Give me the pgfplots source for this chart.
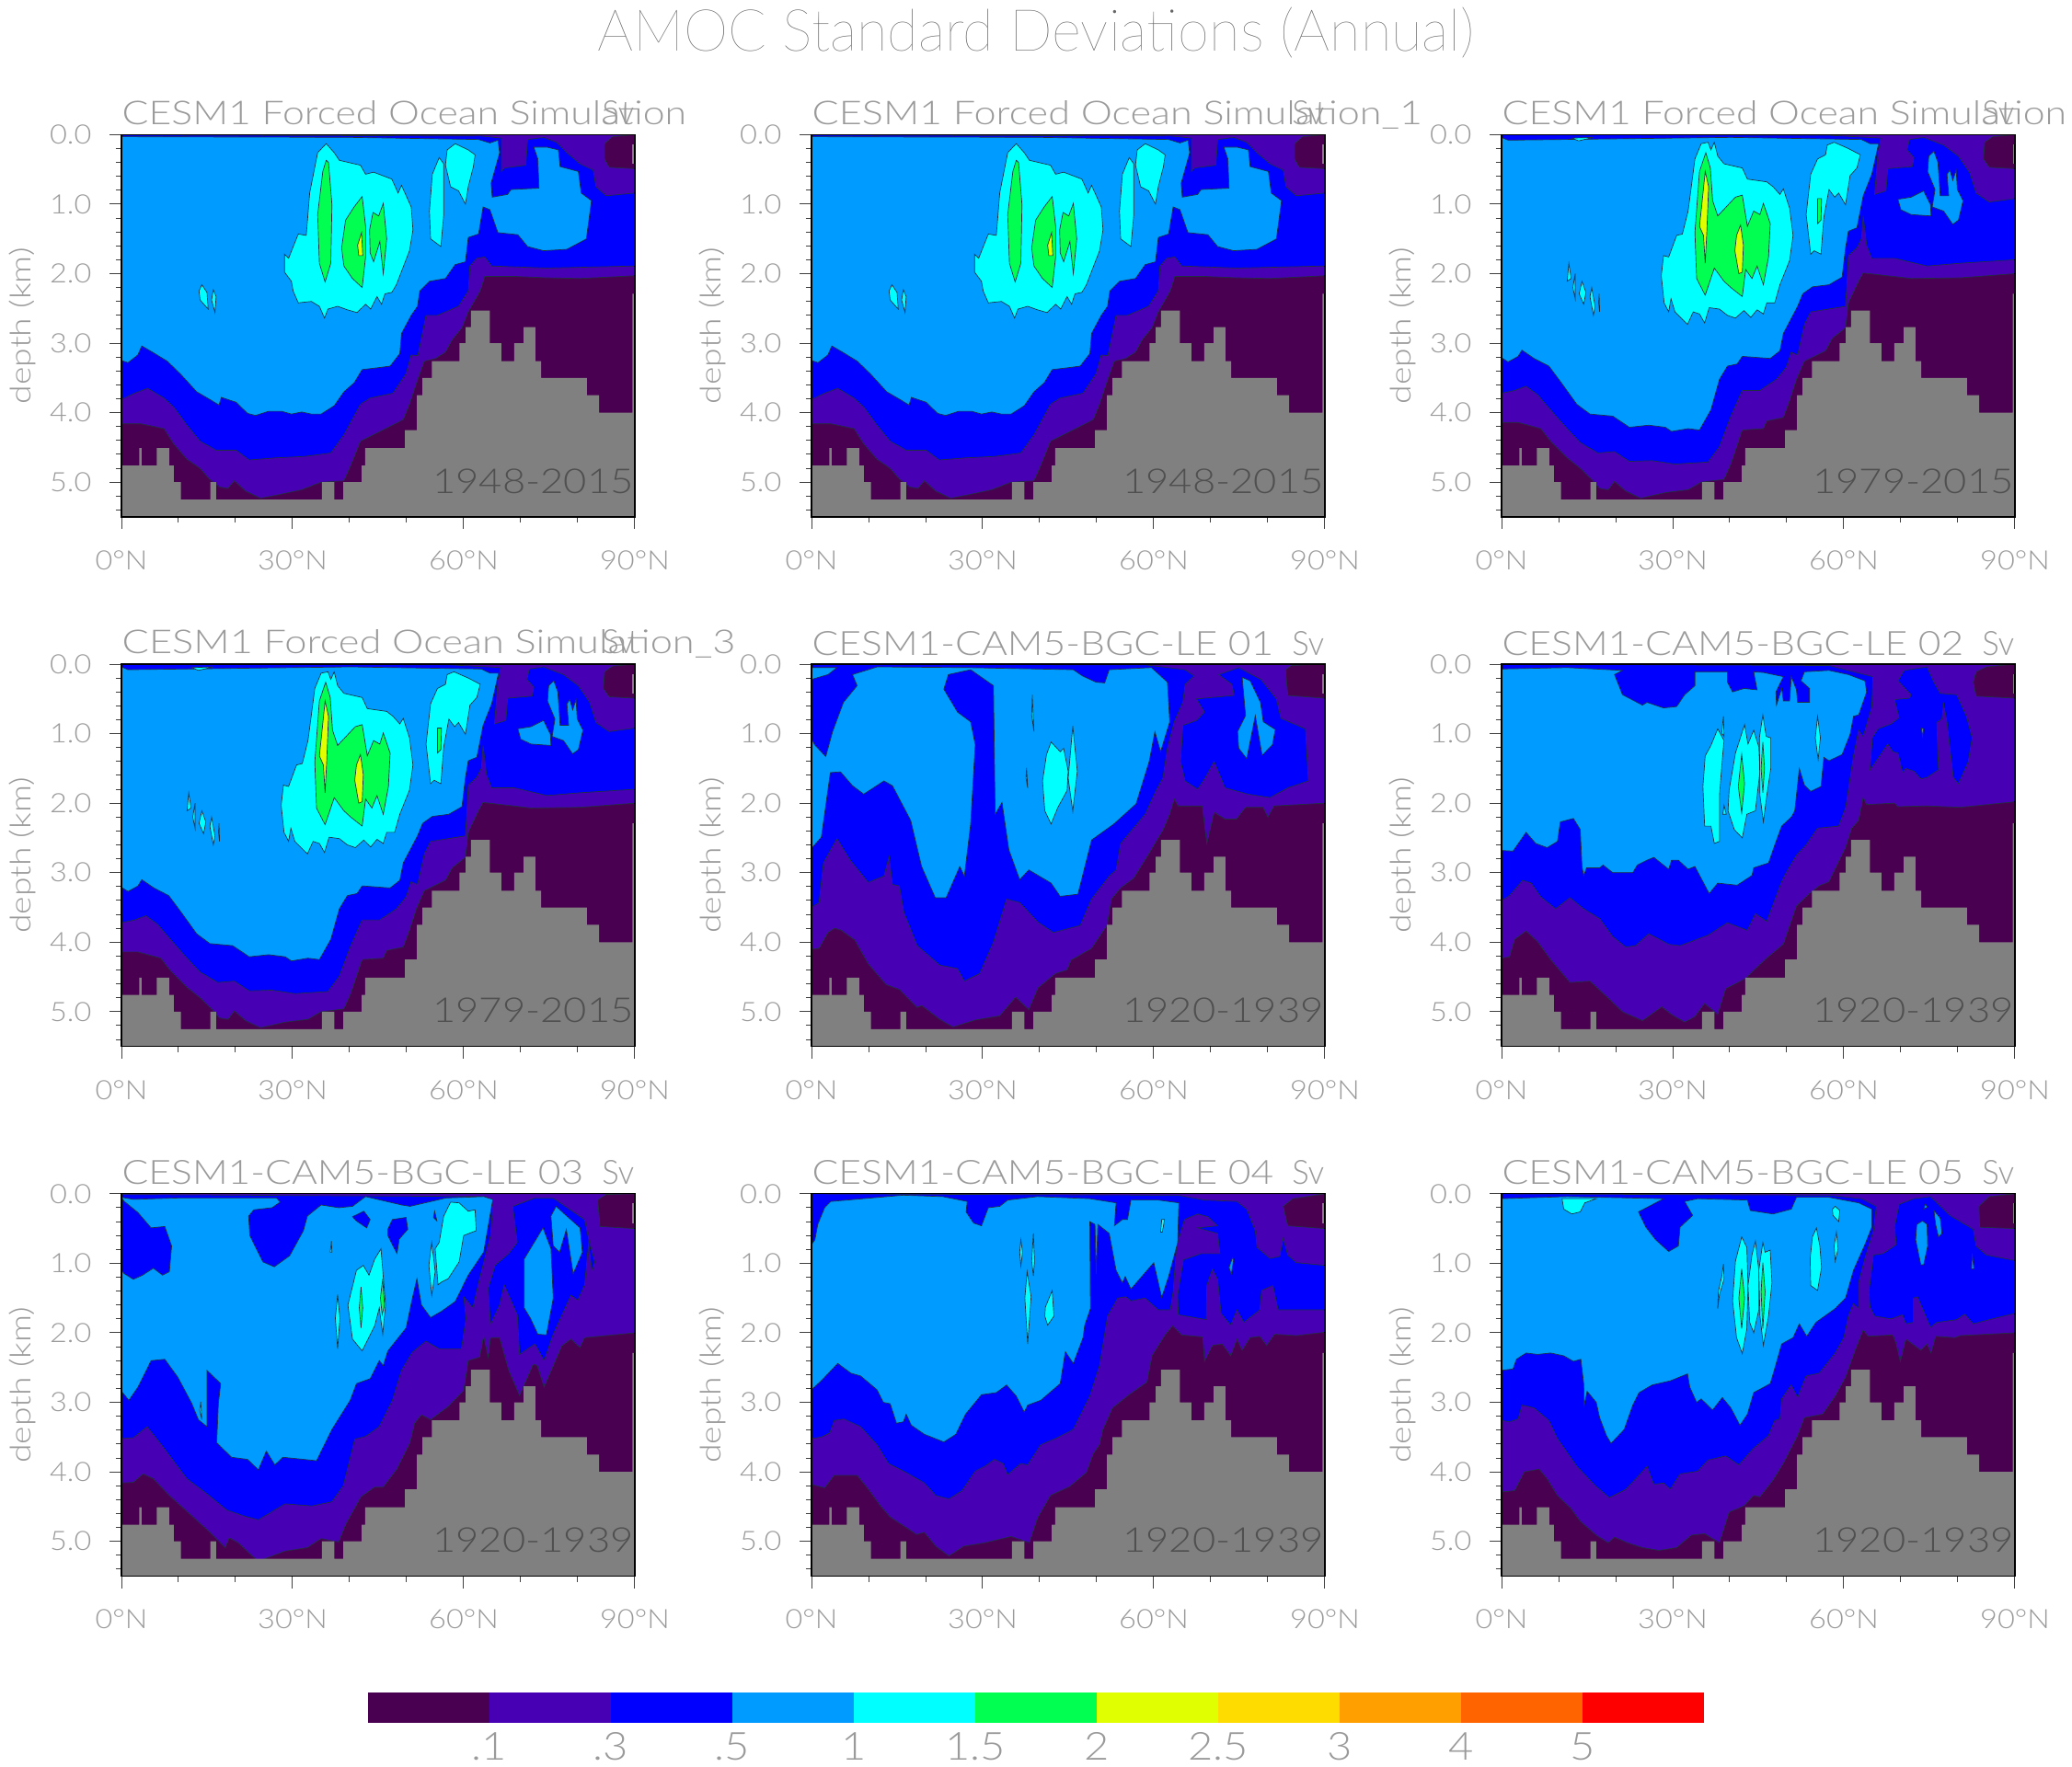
\documentclass[border=0pt]{standalone}
\usepackage{fontspec}
\usepackage{graphicx}
\usepackage{pgfplots}
\pgfplotsset{compat=1.18}
\setmainfont{Lato Light}
\newfontfamily\tickfont{Lato Light}[FakeStretch=1.12]
\newfontfamily\thinfont{Lato Hairline}
\definecolor{c0}{HTML}{4A0050}
\definecolor{c1}{HTML}{4800B4}
\definecolor{c2}{HTML}{0000FF}
\definecolor{c3}{HTML}{009BFF}
\definecolor{c4}{HTML}{00FFFF}
\definecolor{c5}{HTML}{00FF50}
\definecolor{c6}{HTML}{E0FF00}
\definecolor{c7}{HTML}{FFDC00}
\definecolor{c8}{HTML}{FFA000}
\definecolor{c9}{HTML}{FF6400}
\definecolor{c10}{HTML}{FF0000}
\definecolor{gr}{HTML}{808080}
\definecolor{tc}{HTML}{9A9A9A}
\definecolor{yc}{HTML}{505050}
\definecolor{cl}{HTML}{203040}
\newcommand\poly[2]{\addplot[fill=#1,draw=cl,line width=.2pt,forget plot] coordinates {#2} -- cycle;}
\newcommand\Base{\addplot[fill=c0,draw=none,forget plot] coordinates {(0,0)(90,0)(90,5.5)(0,5.5)} -- cycle;}
\newcommand\Topo{%
\addplot[fill=gr,draw=none,forget plot] coordinates {(0,4.76)(3.13,4.76)(3.13,4.51)(3.52,4.51)(3.52,4.76)(6.18,4.76)(6.18,4.51)(8.37,4.51)(8.37,4.76)(9.16,4.76)(9.16,5)(10.41,5)(10.41,5.25)(15.57,5.25)(15.57,5)(16.59,5)(16.59,5.25)(35.14,5.25)(35.14,5)(37.33,5)(37.33,5.25)(38.9,5.25)(38.9,5)(42.1,5)(42.1,4.76)(42.73,4.76)(42.73,4.51)(49.7,4.51)(49.7,4.25)(51.8,4.25)(51.8,3.75)(52.75,3.75)(52.75,3.5)(54.4,3.5)(54.4,3.26)(59.24,3.26)(59.24,3)(60.34,3)(60.34,2.77)(61.28,2.77)(61.28,2.53)(64.56,2.53)(64.56,3)(66.6,3)(66.6,3.26)(68.87,3.26)(68.87,3)(70.5,3)(70.5,2.77)(72.55,2.77)(72.55,3.26)(73.56,3.26)(73.56,3.5)(81.6,3.5)(81.6,3.75)(83.74,3.75)(83.74,4)(89.6,4)(89.6,2.29)(90,2.29)(90,5.5)(0,5.5)} -- cycle;
\addplot[fill=gr,draw=none,forget plot] coordinates {(89.6,.14)(90,.14)(90,.42)(89.6,.42)} -- cycle;}
% ---------- panels 1 and 2
\newcommand\PanelA{\Base
\poly{c1}{(0,0)(0,4.16)(3.44,4.16)(7.46,4.23)(9.18,4.45)(11.48,4.67)(13.78,4.8)(15.5,4.96)(17.22,5.07)(18.66,5.09)(19.8,4.98)(21.8,5.13)(24.4,5.23)(27.55,5.18)(31.57,5.11)(35,5)(39,4.98)(40.2,4.76)(41.9,4.41)(45.35,4.27)(49.4,4.1)(50.5,3.88)(51.95,3.52)(53.1,3.26)(55.1,3.22)(56.8,3.13)(58,2.95)(59.7,2.78)(60.8,2.55)(62.9,2.25)(63.7,2.04)(68.9,2.04)(74.6,2.06)(80.4,2.07)(90,2.03)(90,.49)(85.5,.47)(84.7,.35)(84.7,.13)(86.1,.03)(90,0)}
\poly{c2}{(0,.005)(0,3.81)(2.3,3.72)(4.6,3.65)(7.46,3.79)(9.18,3.92)(11.5,4.18)(13.8,4.41)(16.6,4.54)(20.1,4.54)(22.4,4.68)(27,4.65)(32.1,4.63)(36.7,4.58)(39,4.32)(41.9,3.88)(43.6,3.79)(47.6,3.72)(49.9,3.44)(50.8,3.17)(51.95,3.18)(53.4,2.6)(55.4,2.6)(59.1,2.47)(60.8,2.25)(61.1,1.89)(62.3,1.78)(63.7,1.76)(64.9,1.89)(74.6,1.92)(90,1.89)(90,.84)(85,.88)(83.2,.75)(82.7,.51)(80.4,.42)(78.1,.26)(76.3,.11)(74,.04)(71.2,.07)(70.9,.44)(67.2,.48)(66.6,.53)(66.6,.05)(63.1,.02)}
\poly{c3}{(0,.03)(0,3.25)(1.15,3.28)(2.87,3.17)(3.56,3.04)(5.45,3.13)(8.04,3.26)(10.3,3.44)(13.2,3.7)(15.5,3.81)(17.1,3.89)(17.5,3.78)(20.1,3.85)(22.1,4.01)(23.5,4.04)(25.8,3.98)(28.1,3.98)(29.8,4.02)(31.6,3.99)(33.3,4.02)(35,4.02)(37.3,3.9)(39,3.7)(40.8,3.57)(42.2,3.38)(45.3,3.35)(47.1,3.33)(48.8,3.15)(49.1,2.86)(50.8,2.6)(51.9,2.47)(52.3,2.25)(54,2.11)(56.8,2.07)(58.5,1.87)(60.3,1.83)(60.8,1.48)(62.6,1.43)(63.4,1.04)(64.6,1.08)(66,1.41)(69.5,1.44)(71.2,1.61)(74,1.67)(78.1,1.65)(81.5,1.5)(82.4,.95)(80.6,.84)(80.1,.53)(76.9,.46)(76.6,.22)(74.6,.18)(72.3,.18)(73,.35)(73.2,.77)(68.3,.79)(67.7,.86)(65,.9)(64.8,.7)(66.3,.26)(66,.08)(64.6,.12)(62.6,.07)(40.2,.04)}
\poly{c4}{(35.9,.13)(37.3,.26)(38.2,.37)(41.9,.44)(42.8,.57)(44.2,.54)(47.4,.64)(48.5,.84)(49.1,.73)(50.8,1.04)(51.1,1.37)(50.5,1.67)(48.2,2.16)(47.4,2.27)(46.2,2.29)(45.6,2.44)(44.8,2.33)(43.7,2.51)(42.8,2.44)(41.3,2.56)(39.6,2.52)(37.9,2.47)(36.2,2.51)(35.6,2.64)(34.7,2.47)(33.3,2.4)(31,2.42)(30.1,2.25)(29.8,2.11)(28.6,1.98)(28.6,1.72)(29.3,1.78)(31,1.43)(32.4,1.45)(33,.84)(34.4,.26)}
\poly{c4}{(55.7,.33)(56.5,.42)(56.5,1.15)(56,1.61)(54.2,1.5)(54,1.1)(54.5,.57)}
\poly{c4}{(58.5,.13)(60.8,.22)(62,.29)(61.7,.46)(60.8,.75)(60.3,1)(59.1,.81)(57.7,.75)(56.8,.44)(57.1,.22)}
\poly{c4}{(14.1,2.16)(15,2.27)(15.2,2.51)(13.8,2.38)(13.6,2.25)}
\poly{c4}{(16.1,2.23)(16.6,2.33)(16.4,2.56)(15.8,2.38)}
\poly{c5}{(35.9,.37)(36.3,.4)(36.9,1.01)(36.7,1.85)(35.7,2.12)(34.7,1.85)(34.4,1.15)(35.3,.53)}
\poly{c5}{(42.2,.89)(42.8,1.32)(42.8,1.76)(42.2,2.2)(40.5,2.07)(39,1.89)(38.6,1.63)(39.3,1.23)(40.8,1.04)}
\poly{c5}{(45.9,.99)(46.5,1.5)(45.9,2)(45.3,1.54)(44.2,1.83)(43.6,1.7)(43.5,1.37)(44.1,1.12)(45.1,1.17)}
\poly{c6}{(42.1,1.41)(42.3,1.74)(41.6,1.74)(41.4,1.59)}
}
% ---------- panels 3 and 4
\newcommand\PanelB{\Base
\poly{c1}{(0,0)(0,4.14)(2.87,4.14)(6.9,4.23)(8.6,4.41)(11.5,4.65)(13.8,4.8)(15.8,4.96)(17.2,5.09)(18.7,5.11)(19.8,4.99)(21.8,5.13)(24.4,5.23)(28.7,5.15)(32.7,5.11)(35,5)(39,4.96)(40.2,4.74)(42.2,4.25)(45.9,4.23)(46.5,4.12)(49.4,4.07)(50.5,3.83)(51.7,3.52)(53.1,3.26)(56.8,3.11)(58,2.93)(60.3,2.78)(60.8,2.42)(62.6,2.11)(63.4,1.99)(66.6,2.02)(71.8,2.07)(80.4,2.06)(90,2)(90,.49)(85.5,.47)(84.5,.35)(84.7,.11)(86.1,.03)(90,0)}
\poly{c2}{(0,0)(0,3.72)(2.3,3.68)(4.3,3.62)(6.3,3.74)(8.6,3.96)(11.5,4.23)(13.8,4.43)(16.9,4.58)(19.8,4.56)(22.4,4.7)(26.4,4.69)(30.4,4.74)(36.2,4.71)(38.2,4.49)(40.2,4.05)(42.2,3.68)(45.3,3.68)(48.2,3.52)(49.9,3.35)(50.8,3.13)(51.9,3.17)(53.1,2.73)(54.2,2.55)(60.3,2.47)(60.6,2.07)(60.8,1.74)(62.3,1.63)(63.1,1.5)(63.4,1.17)(64,1.59)(64.9,1.78)(68.9,1.78)(74.6,1.89)(80.4,1.85)(90,1.8)(90,.92)(85.5,.97)(83.2,.84)(82.1,.55)(80.1,.31)(77.5,.15)(74,.04)(71.5,.07)(71.1,.22)(72.3,.33)(72,.46)(67.7,.49)(67.4,.81)(65.4,.86)(66,.26)(66.5,.05)(57.4,.01)}
\poly{c3}{(0,.04)(0,3.21)(1.15,3.27)(2.9,3.19)(3.56,3.1)(5.7,3.22)(8.3,3.33)(10.3,3.55)(13.2,3.88)(15.5,4.02)(19.5,4.05)(22.4,4.21)(25.8,4.18)(28.7,4.21)(29.8,4.27)(32.7,4.23)(34.7,4.25)(36.7,3.96)(38.2,3.52)(39.6,3.33)(41.3,3.3)(42.2,3.19)(47.1,3.22)(48.8,3.11)(49.4,2.86)(51.9,2.47)(52.8,2.29)(54.5,2.19)(57.4,2.16)(59.7,2.05)(60.3,1.63)(60.8,1.39)(62.3,1.34)(63.4,.88)(64.9,.57)(66.1,.13)(64.6,.13)(63.1,.07)(40.2,.04)(1.15,.08)}
\poly{c3}{(69.5,.93)(71.8,.9)(74,.81)(75.2,1.01)(75.3,1.17)(71.8,1.15)(70,1.08)}
\poly{c3}{(75.8,.24)(76.5,.4)(76.9,.88)(78.4,.88)(78.1,.57)(78.6,.51)(79.1,.66)(79.7,.51)(79.9,.79)(80.9,.95)(80.1,1.23)(79.1,1.29)(77.5,1.1)(75.5,1.04)(76,.79)(74.7,.53)(74.9,.31)}
\poly{c4}{(36.2,.11)(36.7,.22)(37.3,.11)(37.9,.31)(39,.42)(42.2,.48)(43.1,.64)(46.5,.68)(47.6,.75)(48.8,.86)(49.4,.78)(50.5,1.06)(51.1,1.45)(50.5,1.81)(48.8,2.16)(47.9,2.42)(46.5,2.42)(45.9,2.58)(44.8,2.52)(43.7,2.63)(42.5,2.53)(41,2.64)(39.6,2.6)(38.2,2.51)(36.4,2.49)(35.6,2.71)(34.7,2.58)(33.6,2.55)(32.6,2.73)(30.4,2.55)(29.7,2.36)(29.3,2.55)(28.5,2.42)(28,2.03)(28.4,1.74)(29.3,1.76)(30.7,1.45)(31.7,1.43)(32.7,1.1)(33.9,.35)(35,.13)}
\poly{c4}{(58.3,.11)(60.8,.2)(62.9,.29)(62.3,.48)(61.1,.59)(60.3,1.01)(59.1,.84)(58.4,.9)(57.4,.79)(56.5,1.19)(56,1.72)(54.8,1.67)(54.2,1.72)(53.4,1.15)(54.2,.57)(55.4,.35)(56.8,.29)(57.1,.15)}
\poly{c4}{(11.8,1.85)(12.2,2.07)(11.5,2.11)}
\poly{c4}{(12.9,2)(12.9,2.36)(12.5,2.2)}
\poly{c4}{(14.1,2.11)(14.8,2.27)(14.4,2.44)(13.6,2.29)}
\poly{c4}{(15.8,2.2)(16.4,2.47)(16.1,2.6)(15.5,2.33)}
\poly{c4}{(17.1,2.29)(17.2,2.55)(17,2.42)}
\poly{c4}{(12.3,.05)(16.1,.04)(13.5,.09)}
\poly{c5}{(35.8,.26)(36.6,.48)(37,.95)(37.9,1.17)(41,.9)(42.2,.87)(43.1,1.32)(44.2,1.1)(45.3,1.15)(45.9,.99)(47.1,1.28)(46.8,1.76)(45.9,2.16)(44.8,1.89)(43.9,2.07)(42.8,1.94)(42.2,2.33)(40.2,2.2)(39,2.11)(37.3,1.92)(35.7,2.31)(34.2,2.07)(33.9,1.41)(34.7,.53)}
\poly{c5}{(55.4,.92)(56.1,.92)(56,1.23)(55.4,1.28)}
\poly{c6}{(35.7,.53)(36.3,.75)(36,1.37)(35.7,1.85)(35.4,1.45)(34.7,1.32)(35.1,1.01)}
\poly{c6}{(41.9,1.3)(42.4,1.59)(42.2,1.98)(41.6,2)(40.9,1.67)(41.2,1.45)}
}
% ---------- panel 5
\newcommand\PanelE{\Base
\poly{c1}{(0,0)(0,4.1)(1.33,4.09)(2.9,3.86)(4.07,3.8)(5.24,3.83)(7.6,3.97)(9.94,4.31)(13.07,4.61)(15.4,4.68)(18.55,4.94)(19.3,4.91)(22.5,5.11)(24.8,5.22)(28.7,5.12)(33,5.06)(35.8,4.79)(38.1,4.97)(39.7,4.66)(42.8,4.45)(44.8,4.4)(45.5,4.26)(49.1,4.09)(51.8,3.76)(52.6,3.38)(54.2,3.22)(56.5,3.08)(59.2,2.72)(61.6,2.39)(62.8,2.16)(63.6,1.94)(64.3,2.04)(68.5,2.04)(69.3,2.58)(70.6,2.13)(72.5,2.23)(74.5,2.23)(76.1,2.06)(79.2,2.06)(80,2.2)(81.1,2.04)(90,2)(90,.49)(83.5,.45)(83.1,.08)(84.2,.02)(90,0)}
\poly{c2}{(0,3.5)(1.33,3.43)(2.1,2.86)(4.46,2.51)(6.8,2.82)(9.94,3.14)(12.7,3.05)(13.6,2.77)(14.2,3.17)(15.4,3.19)(16.2,3.57)(18.55,4.05)(22.5,4.33)(25.6,4.38)(26.8,4.56)(29.5,4.45)(31.9,4)(34.2,3.38)(36.5,3.43)(39.7,3.71)(42.4,3.86)(47.1,3.76)(49.1,3.38)(52.2,3.05)(53.4,2.96)(54.2,2.58)(58.5,2.16)(60.4,1.82)(61.6,1.64)(62.4,1.21)(63.6,.83)(65.1,.55)(65.5,.29)(67.1,.17)(65.5,.08)(58.5,.01)(0,.005)}
\poly{c2}{(64.7,1.4)(65.1,.88)(67.5,.81)(68.9,.69)(67.5,.5)(74.1,.45)(73.7,.29)(71.4,.15)(74.9,.05)(78.8,.22)(81.5,.5)(82.3,.78)(86.6,.93)(87.1,1.68)(83.5,1.78)(80.4,1.92)(76.5,1.87)(72.5,1.78)(70.6,1.4)(69,1.64)(67.7,1.8)(65.5,1.68)}
\poly{c3}{(0,1.07)(0,2.65)(1.72,2.49)(3.3,1.56)(5.09,1.55)(7.2,1.75)(9.16,1.87)(12.7,1.68)(14.2,1.75)(17.4,2.25)(19.3,2.91)(21.7,3.36)(23.6,3.36)(26,2.91)(26.8,3.05)(27.9,2.3)(28.7,1.16)(27.9,.83)(25.6,.69)(23.2,.36)(24,.15)(27.9,.08)(31.9,.31)(32.2,2.16)(33.4,1.99)(34.6,2.67)(36.5,3.1)(38.1,2.96)(42,3.15)(43.6,3.34)(46.7,3.31)(49.1,2.53)(53,2.3)(56.9,2.01)(59.2,1.4)(60.2,.97)(61.2,1.26)(62.8,.83)(62.4,.26)(59.6,.05)(52.2,.08)(51.4,.27)(49.9,.26)(47.5,.17)(45.9,.08)(27.2,.05)(11.5,.04)(7.2,.15)(8,.31)(6.8,.43)(5.6,.55)(3.7,.97)(2.5,1.33)(.55,1.16)}
\poly{c3}{(0,.05)(4.46,.05)(2.9,.15)(0,.22)}
\poly{c3}{(75.5,.19)(76.9,.24)(78.7,.55)(79.2,.83)(81.3,.94)(80.8,1.16)(79,1.31)(77.8,.74)(76.3,1.36)(74.9,1.21)(74.7,.97)(76.1,.74)}
\poly{c4}{(42,1.12)(43.6,1.26)(44.2,1.21)(45,1.54)(44.8,1.82)(43.2,2.06)(42,2.3)(40.9,2.11)(40.5,1.68)(41.2,1.3)}
\poly{c4}{(45.8,.89)(46.6,1.54)(45.8,2.12)(45,1.64)}
\poly{c4}{(38.7,.44)(39,.97)(38.6,.74)}
\poly{c4}{(37.7,1.49)(37.9,1.78)(37.6,1.64)}
}
% ---------- panel 6
\newcommand\PanelF{\Base
\poly{c1}{(0,0)(0,4.23)(1.4,4.21)(2.3,3.96)(4.3,3.84)(6.3,3.99)(8.6,4.25)(12,4.58)(15.5,4.56)(18.4,4.78)(21.2,5)(24.7,5.13)(28.1,4.93)(29.8,5.04)(32.1,5.15)(33.9,5.07)(35.6,4.88)(37.9,5.04)(39.3,4.67)(42.8,4.52)(44.8,4.36)(46.5,4.23)(49.4,4.03)(51.7,3.48)(54,3.3)(55.7,3.19)(57.4,3.13)(60.3,2.64)(61.4,2.36)(62.6,2.25)(63.4,1.92)(64,2.02)(68.9,2)(69.5,2.05)(74.6,2.04)(80.4,2.06)(90,1.98)(90,.49)(83.2,.46)(82.7,.26)(83.2,.11)(85,.04)(90,0)}
\poly{c2}{(0,0)(0,3.4)(1.4,3.33)(3.7,3.11)(5.2,3.15)(6.9,3.35)(9.5,3.52)(12,3.36)(14.4,3.52)(17.2,3.66)(19.5,3.92)(21.8,4.07)(23.5,4.05)(25.8,3.88)(29.3,4.03)(31.3,4.05)(36.2,3.9)(39.6,3.72)(43.1,3.83)(44.5,3.59)(46.5,3.7)(49.1,3.13)(49.9,3)(51.7,2.75)(53.4,2.6)(55.4,2.36)(59.1,2.33)(60.3,2.07)(61.7,1.32)(62.6,.95)(63.4,1.04)(64.9,.62)(65.1,.18)(57.4,.02)}
\poly{c2}{(64.6,1.52)(65,1.06)(66,.93)(68.3,.86)(69.7,.77)(68.9,.51)(71.5,.49)(71.8,.44)(69.5,.24)(70.6,.09)(74.6,.04)(75.8,.26)(76.9,.42)(79.8,.44)(81.5,.75)(82.5,1.06)(81.8,1.41)(80.1,1.72)(79.2,1.63)(78.1,.84)(77.5,.57)(77.2,.79)(76.3,.84)(76.6,1.52)(74.6,1.63)(73.5,1.65)(72.3,1.54)(70.9,1.5)(70.3,1.56)(69.5,1.28)(68.6,1.26)(67.7,1.15)(65.4,1.43)}
\poly{c3}{(0,.07)(0,2.68)(2,2.69)(4.3,2.42)(6,2.58)(8,2.64)(9.8,2.55)(10.3,2.27)(12.6,2.22)(13.8,2.38)(14.1,2.91)(14.4,3.04)(14.9,2.93)(17.2,2.93)(17.8,2.89)(19.5,3)(23,3)(23.8,2.89)(25.5,2.82)(26.7,2.78)(29.3,2.95)(29.8,2.82)(31,2.82)(32.7,2.95)(33.9,2.91)(36.4,3.3)(37.9,3.15)(41.3,3.18)(43.9,3.04)(44.2,2.93)(46.8,2.86)(47.9,2.6)(49.1,2.33)(50.8,2.2)(51.4,2.11)(52.2,1.5)(53.1,1.74)(54.2,1.83)(56,1.76)(56.5,1.34)(57.4,1.39)(59.7,1.3)(61.1,1.01)(61.7,.75)(62.6,.73)(64,.4)(63.7,.24)(60.8,.15)(57.4,.09)(53.1,.11)(52.5,.24)(54,.35)(54,.55)(51.9,.55)(51.7,.37)(50.8,.18)(50.5,.53)(49.4,.53)(49.1,.35)(48.2,.59)(48.1,.4)(49.4,.18)(45.9,.12)(44.2,.11)(44.8,.37)(42.5,.35)(40.5,.4)(39.6,.26)(39.6,.11)(33.9,.11)(33.9,.31)(32.1,.44)(30.7,.61)(28.4,.63)(25.5,.55)(24.7,.59)(21.2,.44)(19.8,.15)(21.2,.09)(11.5,.05)}
\poly{c3}{(73.6,.92)(74,.93)(73.8,1.04)}
\poly{c4}{(37.9,.93)(39,1.1)(38.7,1.37)(38.2,1.89)(38.2,2.55)(37.3,2.58)(36.7,2.33)(35.6,2.33)(35.3,1.76)(35.7,1.32)(36.7,1.17)}
\poly{c4}{(42.6,.87)(43.2,1.15)(44.2,.95)(45.1,1.19)(45.3,1.54)(44.5,2.11)(43,2.16)(42.2,2.5)(40.8,2.38)(39.7,2.11)(39.9,1.81)(41,1.28)}
\poly{c4}{(45.8,.73)(46.4,1.04)(47.2,1.06)(47.2,1.5)(46.5,1.89)(45.9,2.27)(45.3,1.89)(45.2,1.06)}
\poly{c4}{(38.9,.75)(39,1.04)(38.6,.99)}
\poly{c4}{(55.4,.75)(55.9,1.06)(55.5,1.37)(55,1.06)}
\poly{c4}{(39,2.03)(39.4,2.16)(38.8,2.16)}
\poly{c5}{(42.1,1.3)(42.6,1.72)(42.1,2.14)(41.5,1.76)}
\poly{c5}{(45.8,1.12)(46.1,1.5)(45.8,1.85)(45.5,1.5)}
}
% ---------- panel 7
\newcommand\PanelG{\Base
\poly{c1}{(0,0)(0,4.16)(2.1,4.15)(3.8,4.03)(5.6,4.1)(8.4,4.34)(11.5,4.57)(15.4,4.86)(18.2,5.09)(18.9,4.95)(20.5,5.02)(23.6,5.26)(24.8,5.26)(28.7,5.14)(32.6,5.09)(35,4.96)(38.1,5.01)(39.3,4.76)(42,4.36)(44.4,4.22)(45.9,4.22)(48.3,3.96)(50.6,3.58)(51.4,3.3)(52.6,3.18)(54.2,3.25)(57.3,3.06)(60,2.83)(60.8,2.4)(62.8,2.35)(63.5,2.05)(64.3,2.35)(64.7,2.07)(66.3,2.07)(67.9,2.54)(69.8,2.9)(72.2,2.45)(72.9,2.47)(74.1,2.78)(77.2,2.19)(78.8,2.09)(80.4,2.21)(81.2,2.07)(90,2)(90,.5)(83.9,.47)(83.5,.09)(85,.01)(90,0)}
\poly{c2}{(0,3.52)(2.1,3.51)(4.5,3.35)(7.2,3.63)(11.5,4.1)(14.6,4.29)(18.5,4.55)(21.7,4.64)(24,4.69)(28.7,4.46)(33.4,4.49)(36.9,4.43)(38.9,4.2)(40.9,3.53)(42.8,3.49)(45.2,3.35)(47.5,2.97)(49.1,2.54)(51,2.28)(53.4,2.12)(55.7,2.23)(59.6,2.23)(60.4,1.79)(60,1.48)(61.6,1.64)(62.8,1.22)(64.7,.6)(65.1,.18)(63.9,.04)(0,.01)}
\poly{c2}{(64.3,1.36)(65.5,1.03)(67.9,.86)(69.4,.7)(68.6,.18)(72.5,.06)(75.7,.06)(81.2,.37)(81.9,.65)(83,.98)(82.5,1.12)(81.9,.7)(81.2,1.31)(80,1.53)(78.8,1.46)(75.7,2.02)(74.1,2.4)(72.5,2.16)(69.8,2.31)(69.4,1.74)(67.1,1.31)(66.3,1.6)(64.7,1.88)}
\poly{c3}{(0,1.1)(0,2.84)(1.3,2.97)(2.9,2.78)(5.2,2.4)(7.6,2.38)(9.9,2.64)(12.3,3.01)(13.5,3.25)(15,3.35)(15,2.54)(17.4,2.73)(17,3.01)(16.7,3.58)(19.3,3.79)(22.1,3.82)(24,3.97)(25.4,3.7)(26.9,3.9)(28.3,3.79)(31.9,3.82)(34.2,3.84)(36.9,3.39)(40.1,2.97)(41.2,2.73)(43.6,2.66)(45.2,2.4)(45.9,2.47)(46.7,2.26)(49.9,1.93)(51,1.5)(51.8,1.22)(52.6,1.6)(54.2,1.78)(56.1,1.69)(58.5,1.55)(60.8,1.17)(63.5,.84)(65.1,.08)(63.5,.04)(56.9,.06)(50.6,.18)(49.1,.16)(42.8,.04)(40.5,.18)(38.1,.2)(35,.16)(32.6,.32)(31.9,.53)(29.5,.89)(26.8,1.05)(24.8,.98)(22.5,.6)(22.3,.32)(23.2,.23)(26.4,.2)(27.8,.12)(27.2,.06)(9.9,.06)(2.1,.08)(0,.05)(.5,.11)(2.9,.27)(5.2,.49)(7.6,.47)(8.8,.75)(8.4,1.12)(7.2,1.17)(5.6,1.07)(3.7,1.17)(2.1,1.23)(.5,1.15)}
\poly{c2}{(40.5,.33)(42.5,.25)(43.6,.37)(43,.49)(41.2,.39)}
\poly{c2}{(46.7,.51)(47.5,.37)(49.9,.34)(50.2,.51)(48.7,.65)(48.3,.86)(46.7,.6)}
\poly{c2}{(54.9,.25)(55.3,.39)(54.7,.34)}
\poly{c3}{(73.9,.49)(75.3,.79)(75.7,1.5)(74.5,2.03)(73,2.02)(71.7,1.79)(70.6,1.64)(70.6,.94)}
\poly{c3}{(76.2,.18)(77.8,.3)(80.4,.49)(80.8,.84)(79.2,1.15)(78,.51)(76.8,.84)(75.7,.75)(75.3,.32)}
\poly{c4}{(57.7,.12)(59.2,.13)(60.8,.25)(62,.23)(62.2,.53)(60,.6)(59.2,.98)(57.3,1.22)(56.1,1.27)(55.5,1.31)(55,.79)(55.7,.7)(56.5,.32)}
\poly{c4}{(54.4,.7)(55,1.12)(54.4,1.46)(53.9,1.03)}
\poly{c4}{(45.5,.79)(46.3,1.6)(45.8,2.02)(45.2,1.64)(44.4,1.9)(42.2,2.26)(40.5,2.09)(39.7,1.6)(41.2,1.1)(42.4,1.03)(43.4,1.17)(44.4,.94)}
\poly{c4}{(37.9,1.45)(38.3,1.79)(37.9,2.23)(37.5,1.79)}
\poly{c4}{(36.8,.68)(36.9,.84)(36.6,.84)}
\poly{c4}{(13.9,2.99)(14.1,3.25)(13.7,3.11)}
\poly{c5}{(42,1.34)(42.3,1.64)(42,1.93)(41.7,1.64)}
\poly{c5}{(45.8,1.22)(46.1,1.6)(45.7,1.74)(45.4,1.5)}
}
% ---------- panel 8
\newcommand\PanelH{\Base
\poly{c1}{(0,0)(0,4.18)(2.3,4.23)(4,4.05)(8,4.05)(9.8,4.23)(12.1,4.49)(13.8,4.65)(16.6,4.8)(18.4,4.9)(19.8,4.87)(21.8,5.07)(24.1,5.21)(26.7,5.07)(30.4,5.02)(35,4.93)(38.2,5.02)(39.6,4.67)(41.9,4.34)(45.3,4.21)(48.2,4.01)(49.4,3.74)(50.5,3.61)(51.1,3.39)(52.8,3.08)(55.7,2.89)(58.8,2.71)(59.7,2.33)(62,2.03)(63.3,1.9)(64.9,2.03)(68.6,2.06)(68.9,2.41)(70.3,2.18)(72,2.16)(73.5,2.33)(74.6,2.09)(75.5,2.25)(76.9,2.07)(78.6,2.05)(79.8,2.18)(81.2,2.02)(85,2.04)(90,1.99)(90,.5)(83.5,.46)(82.7,.18)(84.4,.07)(90,0)}
\poly{c2}{(0,0)(0,3.52)(1.7,3.5)(3.2,3.44)(4,3.26)(5.7,3.24)(8.6,3.35)(11.5,3.61)(13.5,3.88)(16.6,4.01)(19.8,4.16)(21.8,4.34)(24.1,4.39)(26.4,4.27)(28.7,3.99)(30.4,3.92)(32.1,3.82)(33.6,3.88)(34.4,4.04)(36.7,3.88)(37.9,3.9)(40.2,3.61)(42.8,3.52)(45.9,3.39)(48.8,2.91)(50.5,2.47)(51.9,1.76)(53.7,1.5)(55.1,1.48)(56,1.54)(58.5,1.5)(60.8,1.67)(62.9,1.67)(63.4,1.41)(64,.75)(65.4,.37)(67.7,.29)(69.5,.33)(71.2,.46)(67.7,.49)(71.2,.57)(71.6,.86)(68.3,.86)(65.2,.95)(64.2,1.45)(64.3,1.74)(69.2,1.81)(69.3,1.32)(70.3,1.08)(71.2,1.23)(71.8,1.72)(73.5,1.89)(74.6,1.67)(75.8,1.85)(78.6,1.67)(78.9,1.39)(80.9,1.32)(81.8,1.67)(90,1.67)(90,1.03)(85,.99)(83.5,.88)(82.7,.64)(82.1,.9)(80.4,.93)(78.1,.77)(77.8,.53)(76.3,.22)(74.6,.11)(68.9,.09)(64.3,.02)}
\poly{c3}{(0,.73)(0,2.82)(1.7,2.69)(4.6,2.44)(6.9,2.58)(8.6,2.62)(11.5,2.82)(12.6,3)(13.8,3.02)(14.9,3.3)(16.1,3.28)(16.6,3.17)(17.5,3.33)(19.8,3.46)(23.2,3.57)(25.3,3.46)(27,3.17)(29.8,2.89)(32.4,2.86)(34.2,2.75)(35.9,2.91)(37.3,3.14)(37.9,3.04)(40.2,2.97)(43.6,2.73)(44.5,2.27)(45.9,2.44)(47.6,2.07)(47.9,1.89)(48.9,1.65)(48.8,.4)(49.7,.44)(49.9,1.15)(50.2,.44)(52.2,.57)(53.4,1.1)(54.5,1.28)(55,1.19)(56,1.37)(60,.99)(61.4,1.49)(62.6,1.19)(64.2,.7)(64.4,.13)(60.8,.09)(56,.09)(55.4,.37)(54.5,.37)(53.1,.46)(53.4,.13)(48.8,.07)(39.6,.04)(34.4,.09)(33,.18)(31,.2)(29.8,.46)(28.4,.42)(27.1,.26)(27.3,.11)(23,.04)(16.1,.02)(3.4,.11)(2.3,.2)(1.1,.44)(.6,.66)}
\poly{c3}{(73.8,.92)(74,.95)(73.6,1.15)(73.2,1.06)}
\poly{c4}{(36.7,.66)(37,.84)(36.7,1.04)(36.5,.84)}
\poly{c4}{(38.9,.57)(39.1,.97)(38.9,1.18)(38.6,.97)}
\poly{c4}{(37.8,1.12)(38.5,1.48)(37.9,2.16)(37.4,1.5)}
\poly{c4}{(42.2,1.39)(42.5,1.76)(41.4,1.89)(40.9,1.76)(41,1.63)}
\poly{c4}{(61.4,.37)(61.9,.37)(61.5,.55)(61.2,.55)}
}
% ---------- panel 9
\newcommand\PanelI{\Base
\poly{c1}{(0,0)(0,4.29)(2.3,4.27)(4,4)(6.6,3.96)(8,4.1)(9.8,4.34)(12.1,4.52)(13.8,4.71)(16.6,4.91)(18.7,5.02)(19.8,4.94)(22.1,5.02)(24.7,5.09)(27.6,5.13)(30.7,5.09)(33.3,4.91)(35.6,4.89)(38.2,5.02)(39.9,4.58)(42.5,4.49)(44.2,4.34)(45.3,4.36)(47.6,4.12)(49.4,3.88)(51.9,3.48)(53.1,3.22)(56.3,3.17)(58.5,2.91)(60.3,2.64)(62,2.25)(63.4,1.96)(64.3,2.05)(68.6,2.03)(69.2,2.16)(69.9,2.41)(70.9,2.09)(73.5,2.25)(74.6,2.16)(75.3,2.29)(76.1,2.05)(79.5,2.07)(80.4,2.04)(90,2)(90,.5)(83.8,.48)(83.7,.18)(85.5,.04)(90,0)}
\poly{c2}{(0,0)(0,3.26)(1.4,3.28)(2.9,3.24)(3.6,3.04)(5.7,3.08)(8.3,3.26)(9.8,3.52)(13.2,3.92)(16.6,4.21)(18.9,4.37)(21.8,4.25)(24.1,4.05)(25.5,3.92)(26.7,4.18)(28.4,4.16)(29.6,4.25)(31.3,4.03)(34.4,3.99)(36.2,3.83)(39.3,3.77)(41.6,3.9)(44.2,3.66)(46.8,3.48)(47.9,3.26)(48.8,3.24)(49.1,2.95)(50.8,2.75)(51.9,2.93)(53.4,2.62)(55.7,2.58)(58.5,2.29)(60,2.07)(60.8,1.76)(61.7,1.58)(62.6,1.65)(62.6,1.28)(63.7,.93)(65.2,.53)(65.7,.18)(63.1,.07)(57.4,.02)}
\poly{c2}{(64.4,1.41)(65.2,.88)(66.9,.86)(69.2,.73)(68.9,.48)(69.7,.15)(72.3,.07)(75.2,.04)(78.6,.31)(82.7,.51)(83.2,.75)(85,.88)(90,.96)(90,1.72)(85.5,1.81)(82.7,1.87)(81.2,1.73)(79.8,1.81)(76.3,1.85)(75.2,1.92)(73.8,1.65)(72.9,1.48)(72.2,1.5)(72.2,1.85)(70.9,1.87)(70.3,1.74)(68.3,1.8)(65.4,1.76)(64.6,1.63)}
\poly{c3}{(0,.07)(0,2.54)(2,2.52)(2.6,2.38)(4.3,2.29)(6.3,2.31)(8.6,2.29)(10.9,2.33)(12.6,2.41)(13.9,2.38)(14.4,2.73)(14.5,3.04)(15,2.84)(16.6,3)(17.2,3.22)(18.4,3.48)(19.2,3.59)(21.5,3.39)(23,3.04)(24.1,2.86)(26.4,2.75)(29.6,2.69)(32.6,2.59)(33,2.78)(34.2,3)(35,2.95)(37,3.11)(38.7,2.93)(40.2,3.08)(41.8,3.33)(43.1,3.17)(44.2,2.86)(47.1,2.73)(47.9,2.51)(49.1,2.16)(51.1,2.07)(52.2,1.87)(53.5,2.05)(55.1,1.85)(58.5,1.65)(60.3,1.5)(61.7,1.1)(63.7,.73)(64.9,.48)(64.9,.22)(62.6,.13)(57.4,.05)(51.7,.05)(50.8,.22)(47.6,.29)(43.6,.24)(43.1,.09)(34.4,.07)(32.1,.11)(33.5,.31)(31.3,.48)(31,.75)(29.3,.83)(27,.66)(25.3,.48)(24,.26)(28.4,.07)(11.5,.04)}
\poly{c3}{(73.8,.39)(74.6,.44)(74.7,.75)(74,1.02)(73.5,1.02)(72.6,.66)(72.8,.44)}
\poly{c3}{(75.8,.24)(76.9,.35)(77.2,.57)(76.6,.62)(76.1,.44)}
\poly{c3}{(74.3,.15)(74.7,.19)(74,.22)}
\poly{c3}{(82.5,.86)(82.8,1.08)(82.4,1.08)}
\poly{c4}{(10.6,.07)(16.6,.07)(14.6,.13)(13.8,.26)(12.3,.29)(10.9,.22)}
\poly{c4}{(42.1,.62)(43,.77)(43.2,1.32)(43,1.94)(42.2,2.3)(41.2,2.07)(40.5,1.54)(41,.97)}
\poly{c4}{(44.5,.68)(45.1,1.1)(45.1,1.67)(44.2,2)(43.5,1.85)(43.2,1.32)(43.9,.88)}
\poly{c4}{(45.8,.7)(46.2,.84)(47.1,.81)(47.4,1.28)(46.8,1.76)(45.9,2.18)(45.3,1.76)(45.1,1.1)}
\poly{c4}{(55.2,.49)(55.8,.75)(56.1,1.06)(55.4,1.39)(54.2,1.32)(54.1,.93)(54.5,.62)}
\poly{c4}{(58.5,.18)(59.3,.24)(59.1,.4)(58.1,.31)(58,.22)}
\poly{c4}{(58.7,.55)(59,.79)(58.5,.97)(58.3,.75)}
\poly{c4}{(38.9,1.01)(39,1.23)(38.2,1.45)(37.9,1.65)(38,1.41)(38.6,1.19)}
\poly{c5}{(42.1,1.08)(42.6,1.5)(42.1,1.94)(41.6,1.5)}
\poly{c5}{(45.8,.99)(46.2,1.41)(45.8,1.94)(45.5,1.41)}
}
\pgfplotsset{amoc/.style={
  scale only axis,width=167.4pt,height=124.7pt,anchor=south west,
  xmin=0,xmax=90,ymin=0,ymax=5.5,y dir=reverse,
  axis on top,axis line style={line width=.35pt,black},
  xtick={0,30,60,90},xticklabels={0°N,30°N,60°N,90°N},
  minor xtick={10,20,40,50,70,80},
  ytick={0,1,2,3,4,5},yticklabels={0.0,1.0,2.0,3.0,4.0,5.0},
  minor ytick={.2,.4,.6,.8,1.2,1.4,1.6,1.8,2.2,2.4,2.6,2.8,3.2,3.4,3.6,3.8,4.2,4.4,4.6,4.8,5.2,5.4},
  xtick pos=bottom,ytick pos=left,tick align=outside,
  major tick length=3.9pt,minor tick length=1.9pt,
  tick style={line width=.3pt,black!75},
  xticklabel style={font=\tickfont\fontsize{8.7}{10}\selectfont,text=tc,inner sep=0pt,anchor=north,yshift=-6.9pt},
  yticklabel style={font=\tickfont\fontsize{8.7}{10}\selectfont,text=tc,inner sep=0pt,anchor=east,xshift=-5.7pt},
  ylabel={\resizebox*{51pt}{8.7pt}{depth (km)}},
  ylabel style={at={(axis description cs:0,0.5)},anchor=center,inner sep=0pt,xshift=0pt,yshift=32.2pt,text=tc},
  title style={at={(axis description cs:0,1)},anchor=base west,inner sep=0pt,text=tc,align=left},
}}
\newcommand\panel[7]{%
\begin{axis}[amoc,at={(#1pt,#2pt)},
  title={\resizebox{#4pt}{7.8pt}{#3}},title style={yshift=#5pt-6pt},
  after end axis/.code={
    \node[anchor=base east,inner sep=0pt,text=tc] at (axis description cs:1,1) [yshift=#5pt] {\resizebox{10.5pt}{7.8pt}{Sv}};
    \node[anchor=base east,inner sep=0pt,text=yc] at (axis description cs:.999,.0625) {\resizebox{65.5pt}{8pt}{#6}};
  }]
#7
\Topo
\end{axis}}
\begin{document}
\begin{tikzpicture}
\path[use as bounding box] (0,0) rectangle (675.6pt,576.3pt);
\node[inner sep=0pt,text=black!60] at (337.8pt,565.65pt) {\resizebox*{286pt}{16.5pt}{\thinfont AMOC Standard Deviations (Annual)}};
\panel{39.6}{407.7}{CESM1 Forced Ocean Simulation}{184}{3.4}{1948-2015}{\PanelA}
\panel{264.6}{407.7}{CESM1 Forced Ocean Simulation\_1}{199}{3.4}{1948-2015}{\PanelA}
\panel{489.6}{407.7}{CESM1 Forced Ocean Simulation}{184}{3.4}{1979-2015}{\PanelB}
\panel{39.6}{235}{CESM1 Forced Ocean Simulation\_3}{200}{3.4}{1979-2015}{\PanelB}
\panel{264.6}{235}{CESM1-CAM5-BGC-LE 01}{150.5}{3}{1920-1939}{\PanelE}
\panel{489.6}{235}{CESM1-CAM5-BGC-LE 02}{150.5}{3}{1920-1939}{\PanelF}
\panel{39.6}{62.25}{CESM1-CAM5-BGC-LE 03}{150.5}{3}{1920-1939}{\PanelG}
\panel{264.6}{62.25}{CESM1-CAM5-BGC-LE 04}{150.5}{3}{1920-1939}{\PanelH}
\panel{489.6}{62.25}{CESM1-CAM5-BGC-LE 05}{150.5}{3}{1920-1939}{\PanelI}
\begin{axis}[scale only axis,width=435.6pt,height=9.9pt,at={(120pt,14.4pt)},anchor=south west,
  xmin=0,xmax=11,ymin=0,ymax=1,ytick=\empty,
  xtick={1,2,3,4,5,6,7,8,9,10},xticklabels={.1,.3,.5,1,1.5,2,2.5,3,4,5},
  axis line style={draw=none},major tick length=0pt,
  xticklabel style={font=\tickfont\fontsize{12.6}{14}\selectfont,text=tc,inner sep=0pt,anchor=north,yshift=-3pt}]
\addplot[fill=c0,draw=none] coordinates {(0,0)(1,0)(1,1)(0,1)} -- cycle;
\addplot[fill=c1,draw=none] coordinates {(1,0)(2,0)(2,1)(1,1)} -- cycle;
\addplot[fill=c2,draw=none] coordinates {(2,0)(3,0)(3,1)(2,1)} -- cycle;
\addplot[fill=c3,draw=none] coordinates {(3,0)(4,0)(4,1)(3,1)} -- cycle;
\addplot[fill=c4,draw=none] coordinates {(4,0)(5,0)(5,1)(4,1)} -- cycle;
\addplot[fill=c5,draw=none] coordinates {(5,0)(6,0)(6,1)(5,1)} -- cycle;
\addplot[fill=c6,draw=none] coordinates {(6,0)(7,0)(7,1)(6,1)} -- cycle;
\addplot[fill=c7,draw=none] coordinates {(7,0)(8,0)(8,1)(7,1)} -- cycle;
\addplot[fill=c8,draw=none] coordinates {(8,0)(9,0)(9,1)(8,1)} -- cycle;
\addplot[fill=c9,draw=none] coordinates {(9,0)(10,0)(10,1)(9,1)} -- cycle;
\addplot[fill=c10,draw=none] coordinates {(10,0)(11,0)(11,1)(10,1)} -- cycle;
\end{axis}
\end{tikzpicture}
\end{document}
